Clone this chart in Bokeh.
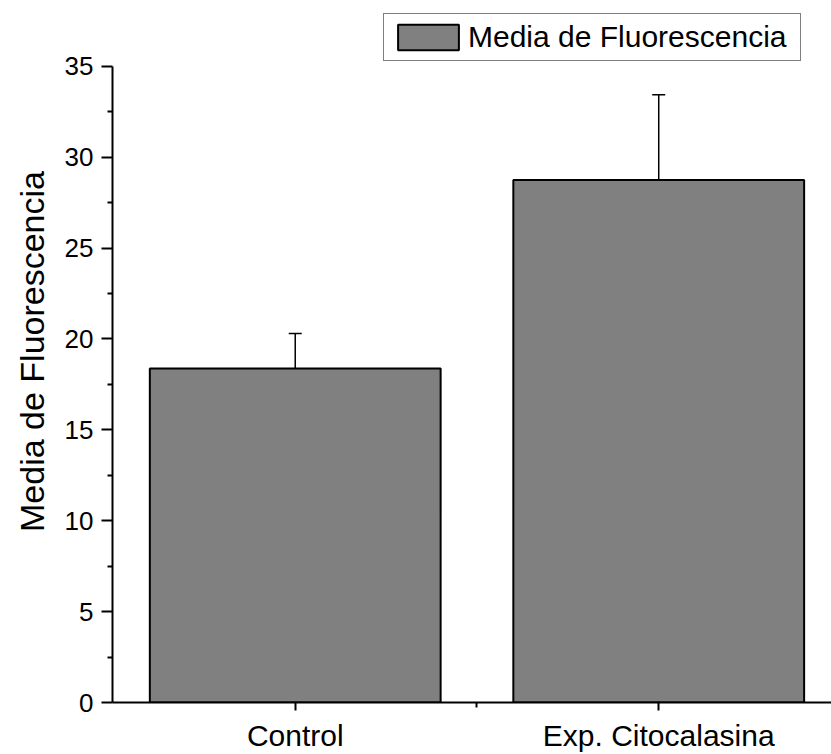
from bokeh.plotting import figure
from bokeh.models import (Range1d, FixedTicker, Whisker, ColumnDataSource,
                          Legend, LegendItem, Title, TeeHead)
from bokeh.embed import file_html
from bokeh.resources import INLINE

# ---- data ----
categories = ["Control", "Exp. Citocalasina"]
means = [18.38, 28.75]
errors = [1.92, 4.68]
y_ticks = [0, 5, 10, 15, 20, 25, 30, 35]
legend_label = "Media de Fluorescencia"
y_title = "Media de Fluorescencia"

FONT = "Liberation Sans"
GRAY = "#808080"

xs = list(range(len(categories)))
upper = [m + e for m, e in zip(means, errors)]
src = ColumnDataSource(dict(x=xs, top=means, upper=upper, cat=categories))
y_minor = [t + 2.5 for t in y_ticks[:-1]]

# frame spans the full height above the x axis; axis itself is bounded 0..35
p = figure(width=831, height=754, output_backend="svg", toolbar_location=None,
           x_range=Range1d(-0.5027, 1.4753), y_range=Range1d(0, 38.62),
           min_border_left=111, min_border_top=0, min_border_bottom=50,
           min_border_right=0)
p.outline_line_color = None
p.xgrid.grid_line_color = None
p.ygrid.grid_line_color = None
p.background_fill_color = "white"
p.border_fill_color = "white"

bars = p.vbar(x="x", top="top", width=0.8, bottom=0, source=src,
              fill_color=GRAY, line_color="black", line_width=2)

wh = Whisker(base="x", lower="top", upper="upper", source=src,
             line_color="black", line_width=1.5,
             upper_head=TeeHead(size=13, line_color="black", line_width=1.5),
             lower_head=None)
p.add_layout(wh)

# x axis
xa = p.xaxis[0]
xa.ticker = FixedTicker(ticks=xs, minor_ticks=[0.5])
xa.major_label_overrides = {i: c for i, c in zip(xs, categories)}
xa.major_label_text_font = FONT
xa.major_label_text_font_size = "30px"
xa.major_label_text_color = "black"
xa.major_label_standoff = 8
xa.major_tick_out = 8
xa.major_tick_in = 0
xa.minor_tick_out = 5
xa.minor_tick_in = 0
xa.axis_line_width = 2
xa.major_tick_line_width = 2
xa.minor_tick_line_width = 2
xa.axis_line_color = "black"

# y axis
ya = p.yaxis[0]
ya.ticker = FixedTicker(ticks=y_ticks, minor_ticks=y_minor)
ya.bounds = (-0.33, y_ticks[-1])
ya.major_label_text_font = FONT
ya.major_label_text_font_size = "26px"
ya.major_label_text_color = "black"
ya.major_label_standoff = 8
ya.major_tick_out = 11
ya.major_tick_in = 0
ya.minor_tick_out = 5
ya.minor_tick_in = 0
ya.axis_line_width = 2
ya.major_tick_line_width = 2
ya.minor_tick_line_width = 2
ya.axis_line_color = "black"

# y title on the left side
p.add_layout(Title(text=y_title, align="center", standoff=21,
                   text_font=FONT, text_font_size="34px",
                   text_font_style="normal", text_color="black"), "left")

legend = Legend(items=[LegendItem(label=legend_label, renderers=[bars])],
                location=(271, 641), orientation="vertical",
                label_text_font=FONT, label_text_font_size="30px",
                label_text_color="black", label_text_baseline="middle",
                glyph_width=76, glyph_height=32, label_standoff=2,
                label_height=26, label_width=326, padding=6, spacing=0,
                margin=0, border_line_color="black", border_line_width=1.5,
                background_fill_color="white", background_fill_alpha=1.0)
p.add_layout(legend, "center")

open("out.html", "w").write(file_html(p, INLINE))
